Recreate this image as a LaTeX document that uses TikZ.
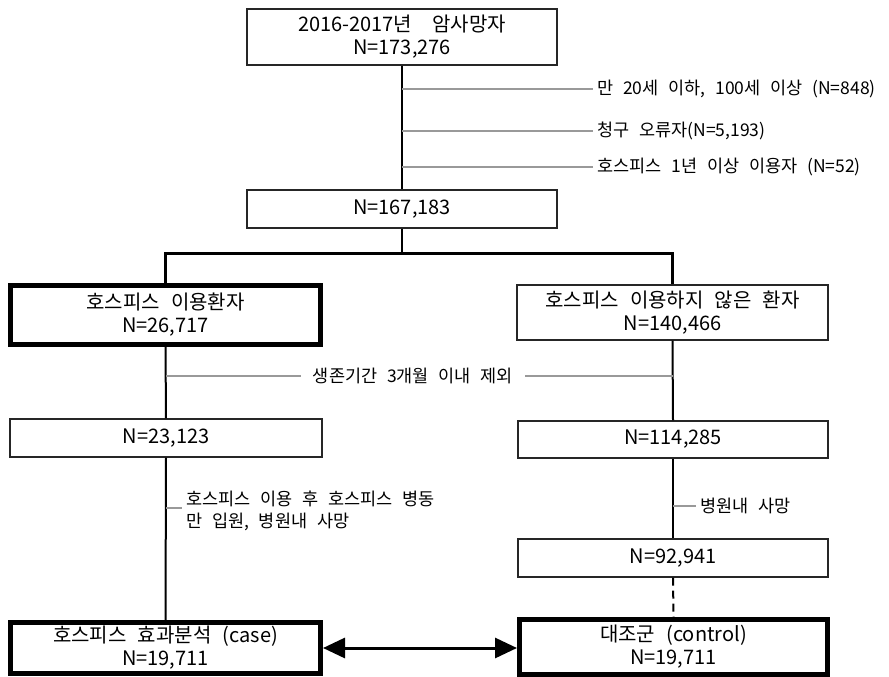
\documentclass[tikz,border=0pt]{standalone}
\usepackage{fontspec}
\setmainfont{Noto Sans CJK KR}[WordSpace=2.5]
\usetikzlibrary{arrows.meta}
\newcommand{\boxw}[0] {310}

\begin{document}
\begin{tikzpicture}[x=1pt,y=-1pt,
        box/.style={draw=black!85,line width=1.3pt,minimum width=\boxw pt,inner sep=0pt,align=center,font=\fontsize{20}{23}\selectfont},
        bold box/.style={box,draw=black,line width=5pt},
        side/.style={font=\fontsize{17.5}{22}\selectfont,inner ysep=0pt,inner xsep=4pt,align=left},
        stem/.style={draw=black,line width=2pt},
        excl/.style={draw=black!40,line width=1.1pt}]
        \useasboundingbox (0,0) rectangle (889,677);
        %boxes
        \node[box,minimum height=56pt] (deaths) at (402,37)     {2016-2017년\quad 암사망자\\N=173,276};
        \node[box,minimum height=38pt] (eligible) at (402,209)     {N=167,183};
        \node[bold box,minimum height=59pt] (hospice) at (165.5,315)     {호스피스 이용환자\\N=26,717};
        \node[box,minimum height=55pt,minimum width=311pt] (nonhospice) at (672.5,312.5)     {호스피스 이용하지 않은 환자\\N=140,466};
        \node[box,minimum height=38pt,minimum width=312pt] (hospiceb) at (166,438)     {N=23,123};
        \node[box,minimum height=37pt] (nonhospiceb) at (673,439.5)     {N=114,285};
        \node[box,minimum height=38pt] (nonhospicec) at (673,558)     {N=92,941};
        \node[bold box,minimum height=51pt] (case) at (165.5,648)     {호스피스 효과분석 (case)\\N=19,711};
        \node[bold box,minimum height=55pt,minimum width=308pt] (control) at (673.5,647)     {대조군 (control)\\N=19,711};
        %exclusion labels
        \node[side,anchor=west] (age) at (593,89)     {만 20세 이하, 100세 이상 (N=848)};
        \node[side,anchor=west] (claim) at (593,131)     {청구 오류자(N=5,193)};
        \node[side,anchor=west] (longuse) at (593,167)     {호스피스 1년 이상 이용자 (N=52)};
        \node[side,inner xsep=12pt] (survival) at (413,376)     {생존기간 3개월 이내 제외};
        \node[side,anchor=west] (ward) at (182,511)     {호스피스 이용 후 호스피스 병동\\만 입원, 병원내 사망};
        \node[side,anchor=west] (inhosp) at (696,506)     {병원내 사망};
        %points on the flow lines
        \coordinate (split) at (402,253);
        \coordinate (age0) at (402,89);
        \coordinate (claim0) at (402,131);
        \coordinate (longuse0) at (402,167);
        \coordinate (survivalL) at (166,376);
        \coordinate (survivalR) at (673,376);
        \coordinate (ward0) at (166,508);
        \coordinate (inhosp0) at (673,506);
        %main flow
        \path[stem, line width=2.5pt] (deaths) edge (eligible);
        \path[stem, line width=2.5pt] (eligible) edge (split);
        \draw[stem, line width=3pt] (hospice.north) |- (split) -| (nonhospice.north);
        \path[stem] (hospice.south) edge (hospiceb.north);
        \path[stem] (hospiceb.south) edge (case.north);
        \path[stem] (nonhospice.south) edge (nonhospiceb.north);
        \path[stem] (nonhospiceb.south) edge (nonhospicec.north);
        \path[stem, dash pattern=on 8pt off 5pt] (nonhospicec.south) edge (control.north);
        %exclusion ticks
        \path[excl] (age0) edge (age.west);
        \path[excl] (claim0) edge (claim.west);
        \path[excl] (longuse0) edge (longuse.west);
        \path[excl] (survivalL) edge (survival.west);
        \path[excl] (survival.east) edge (survivalR);
        \path[excl] (ward0) edge (ward0 -| ward.west);
        \path[excl] (inhosp0) edge (inhosp.west);
        %matching
        \draw[{Triangle[length=22pt,width=20pt]}-{Triangle[length=22pt,width=20pt]}, line width=3pt] (case.east) -- (case.east -| control.west);
\end{tikzpicture}
\end{document}
